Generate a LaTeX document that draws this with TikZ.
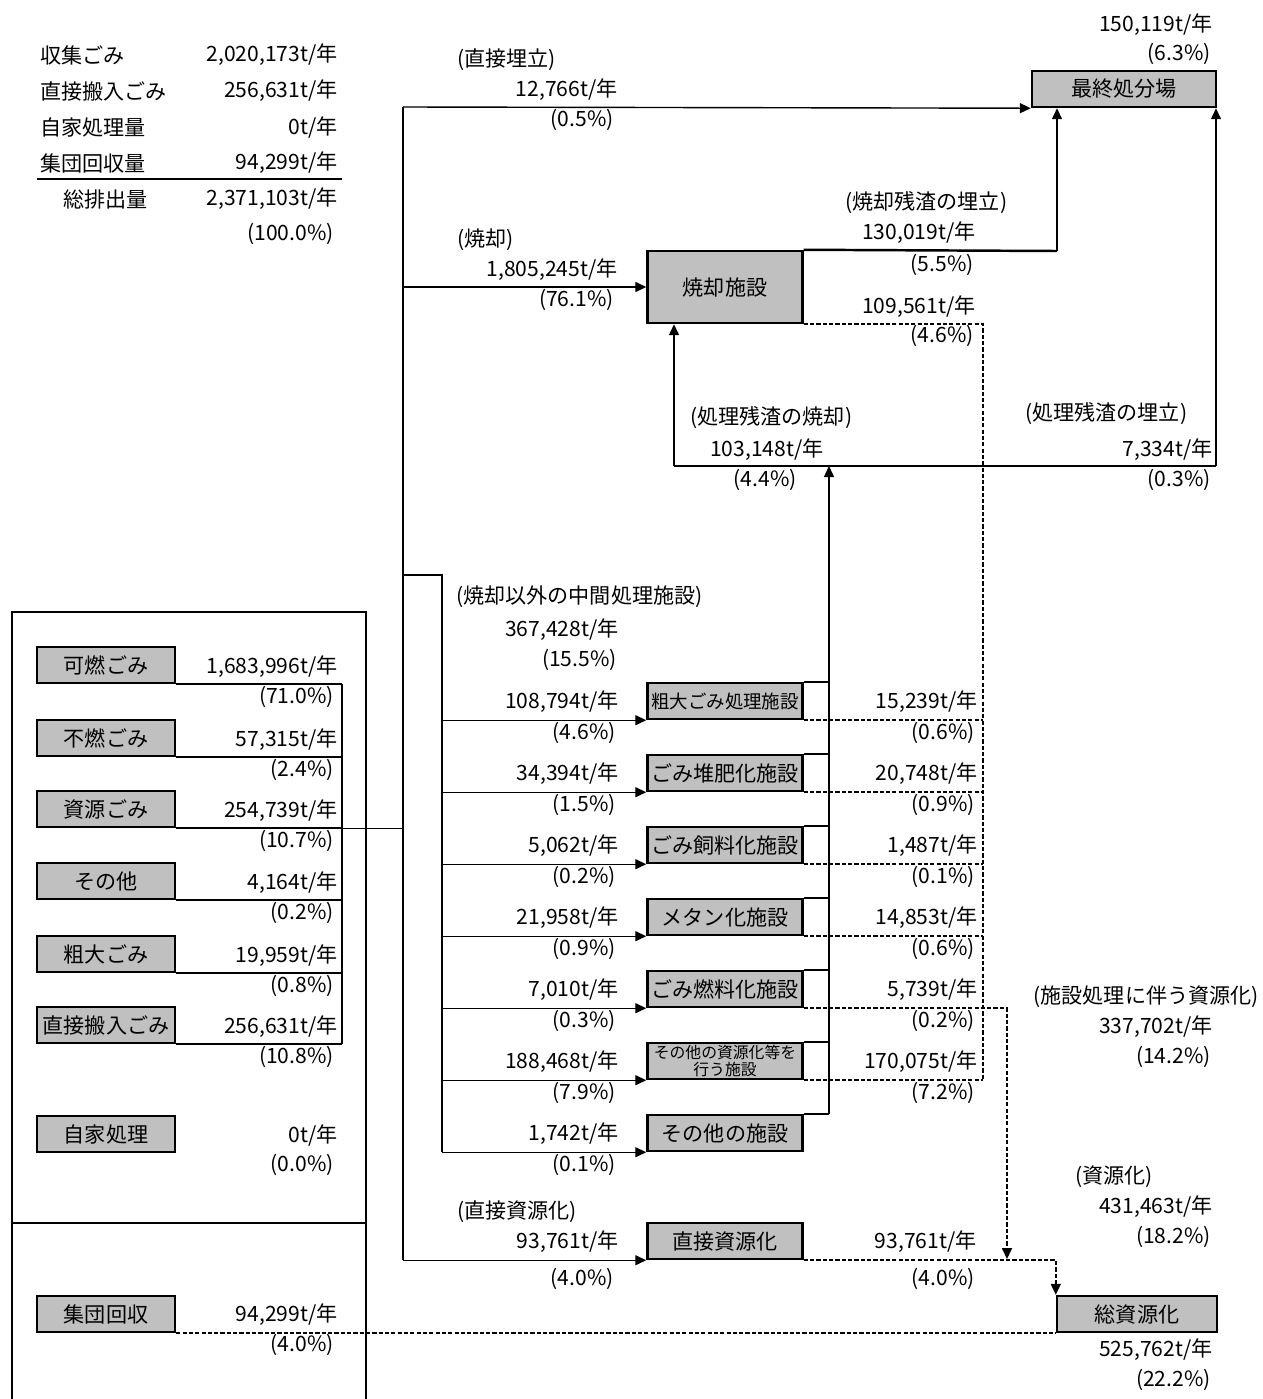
\documentclass[tikz,border=0pt]{standalone}
\usepackage{fontspec}
\setmainfont{Noto Sans CJK JP}
\usetikzlibrary{arrows.meta,positioning}
\definecolor{boxgray}{HTML}{C0C0C0}
\tikzset{
  box/.style={rectangle, draw=black, line width=1.4pt, fill=boxgray, inner sep=0pt,
              minimum height=0.72cm, align=center},
  catbox/.style={box, minimum width=2.76cm},
  facbox/.style={box, minimum width=3.1cm},
  val/.style={anchor=east, inner sep=0pt},
  lbl/.style={anchor=west, inner sep=0pt},
  flow/.style={line width=0.8pt},
  trunkline/.style={line width=1.1pt},
  heavy/.style={line width=1.4pt},
  catline/.style={line width=1.1pt},
  res/.style={line width=1pt, dash pattern=on 2.4pt off 1.2pt},
  arr/.style={-{Triangle[length=2.2mm,width=2mm]}},
}

\begin{document}
\begin{tikzpicture}[x=0.02cm, y=-0.02cm, font=\fontsize{12}{14}\selectfont]
\useasboundingbox (0,0) rectangle (1263,1399);

% summary table
\node[lbl] (tA) at (40,55) {収集ごみ};
\node[val] (tAv) at (338,55) {2,020,173t/年};
\node[lbl] (tB) at (40,91) {直接搬入ごみ};
\node[val] (tBv) at (338,91) {256,631t/年};
\node[lbl] (tC) at (40,127) {自家処理量};
\node[val] (tCv) at (338,127) {0t/年};
\node[lbl] (tD) at (40,163) {集団回収量};
\node[val] (tDv) at (338,163) {94,299t/年};
\draw[catline] (37,179) -- (342,179);
\node[lbl] (tE) at (63,199) {総排出量};
\node[val] (tEv) at (338,199) {2,371,103t/年};
\node[val] (tEp) at (334,234) {(100.0\%)};

% left panel
\draw[heavy] (12,1420) -- (12,612) -- (366,612) -- (366,1420);
\draw[heavy] (12,1223) -- (366,1223);

\node[catbox] (kanen) at (106,665) {可燃ごみ};
\node[catbox] (funen) at (106,738) {不燃ごみ};
\node[catbox] (shigen) at (106,809) {資源ごみ};
\node[catbox] (sonota) at (106,881) {その他};
\node[catbox] (sodai) at (106,954) {粗大ごみ};
\node[catbox] (chokunyu) at (106,1025) {直接搬入ごみ};
\node[catbox] (jika) at (106,1134) {自家処理};
\node[catbox] (shudan) at (106,1314) {集団回収};

\node[val] (kanenv) at (338,667) {1,683,996t/年};
\node[val] (kanenp) at (334,697) {(71.0\%)};
\node[val] (funenv) at (338,740) {57,315t/年};
\node[val] (funenp) at (334,770) {(2.4\%)};
\node[val] (shigenv) at (338,811) {254,739t/年};
\node[val] (shigenp) at (334,841) {(10.7\%)};
\node[val] (sonotav) at (338,883) {4,164t/年};
\node[val] (sonotap) at (334,913) {(0.2\%)};
\node[val] (sodaiv) at (338,956) {19,959t/年};
\node[val] (sodaip) at (334,986) {(0.8\%)};
\node[val] (chokunyuv) at (338,1027) {256,631t/年};
\node[val] (chokunyup) at (334,1057) {(10.8\%)};
\node[val] (jikav) at (338,1135) {0t/年};
\node[val] (jikap) at (334,1165) {(0.0\%)};
\node[val] (shudanv) at (338,1315) {94,299t/年};
\node[val] (shudanp) at (334,1345) {(4.0\%)};

% facilities
\node[box, minimum width=3.68cm] (saishu) at (1124,89) {最終処分場};
\node[box, minimum width=3.1cm, minimum height=1.44cm] (shokyaku) at (725,287) {焼却施設};
\node[facbox, font=\fontsize{10.5}{12}\selectfont] (sodaif) at (725,701) {粗大ごみ処理施設};
\node[facbox] (taihi) at (725,773) {ごみ堆肥化施設};
\node[facbox] (shiryo) at (725,845) {ごみ飼料化施設};
\node[facbox] (methane) at (725,917) {メタン化施設};
\node[facbox] (nenryo) at (725,989) {ごみ燃料化施設};
\node[facbox, font=\fontsize{9}{10}\selectfont] (shigenf) at (725,1061) {その他の資源化等を\\行う施設};
\node[facbox] (otherf) at (725,1133) {その他の施設};
\node[facbox] (chokushi) at (725,1241) {直接資源化};
\node[box, minimum width=3.2cm] (sou) at (1137,1314) {総資源化};

% junctions
\coordinate (trunk) at (403,107);
\coordinate (sub) at (442,575);
\coordinate (lcol) at (342,683);
\coordinate (ucol) at (829,466);
\coordinate (rcol) at (983,1079);
\coordinate (zan) at (1057,251);
\coordinate (lres) at (674,466);
\coordinate (rres) at (1216,466);
\coordinate (rf) at (1007,1259);

% left collection
\foreach \b in {kanen,funen,shigen,sonota,sodai,chokunyu}
  \draw[catline] (\b.south east) -- (\b.south east -| lcol);
\draw[flow] (kanen.south east -| lcol) -- (chokunyu.south east -| lcol);
\draw[flow] (shigen.south east -| lcol) -- (shigen.south east -| trunk);

% main flows
\draw[trunkline] (trunk) -- (trunk |- chokushi.south);
\draw[flow,arr] (trunk) -- (saishu.south west);
\draw[flow,arr] (trunk |- shokyaku) -- (shokyaku.west);
\draw[flow] (trunk |- sub) -- (sub) -- (sub |- otherf.south);
\foreach \f in {sodaif,taihi,shiryo,methane,nenryo,shigenf,otherf}
  \draw[flow,arr] (sub |- \f.south west) -- (\f.south west);
\draw[flow,arr] (trunk |- chokushi.south west) -- (chokushi.south west);

% residues
\foreach \f in {sodaif,taihi,shiryo,methane,nenryo,shigenf,otherf}
  \draw[heavy] (\f.north east) -- (\f.north east -| ucol);
\draw[flow,arr] (otherf.north east -| ucol) -- (ucol);
\draw[heavy] (shokyaku.north east) -- (zan);
\draw[flow,arr] (zan) -- (zan |- saishu.south);
\draw[heavy] (lres) -- (rres);
\draw[flow,arr] (lres) -- (lres |- shokyaku.south);
\draw[flow,arr] (rres) -- (rres |- saishu.south);

% recycling
\draw[res] (shokyaku.south east) -| (rcol);
\foreach \f in {sodaif,taihi,shiryo,methane,shigenf}
  \draw[res] (\f.south east) -- (\f.south east -| rcol);
\draw[res,arr] (nenryo.south east) -| (rf);
\draw[res,arr] (chokushi.south east) -| (sou.north west);
\draw[res] (shudan.south east) -- (sou.south west);

% flow labels
\node[val] (saishuv) at (1213,25) {150,119t/年};
\node[val] (saishup) at (1211,54) {(6.3\%)};
\node[lbl] (umeL) at (457,60) {(直接埋立)};
\node[val] (umev) at (618,90) {12,766t/年};
\node[val] (umep) at (614,120) {(0.5\%)};
\node[lbl] (shoL) at (457,240) {(焼却)};
\node[val] (shov) at (618,270) {1,805,245t/年};
\node[val] (shop) at (614,300) {(76.1\%)};
\node[lbl] (zanL) at (845,203) {(焼却残渣の埋立)};
\node[val] (zanv) at (976,233) {130,019t/年};
\node[val] (zanp) at (974,265) {(5.5\%)};
\node[val] (shoresv) at (976,307) {109,561t/年};
\node[val] (shoresp) at (974,336) {(4.6\%)};
\node[lbl] (lresL) at (690,418) {(処理残渣の焼却)};
\node[val] (lresv) at (824,450) {103,148t/年};
\node[val] (lresp) at (797,480) {(4.4\%)};
\node[lbl] (rresL) at (1025,414) {(処理残渣の埋立)};
\node[val] (rresv) at (1213,450) {7,334t/年};
\node[val] (rresp) at (1211,480) {(0.3\%)};
\node[lbl] (midL) at (456,597) {(焼却以外の中間処理施設)};
\node[val] (midv) at (619,630) {367,428t/年};
\node[val] (midp) at (617,660) {(15.5\%)};

\node[val] (sodaiin) at (619,702) {108,794t/年};
\node[val] (sodaiinp) at (616,733) {(4.6\%)};
\node[val] (sodaiout) at (978,702) {15,239t/年};
\node[val] (sodaioutp) at (975,733) {(0.6\%)};
\node[val] (taihiin) at (619,774) {34,394t/年};
\node[val] (taihiinp) at (616,805) {(1.5\%)};
\node[val] (taihiout) at (978,774) {20,748t/年};
\node[val] (taihioutp) at (975,805) {(0.9\%)};
\node[val] (shiryoin) at (619,846) {5,062t/年};
\node[val] (shiryoinp) at (616,877) {(0.2\%)};
\node[val] (shiryoout) at (978,846) {1,487t/年};
\node[val] (shiryooutp) at (975,877) {(0.1\%)};
\node[val] (methanein) at (619,918) {21,958t/年};
\node[val] (methaneinp) at (616,949) {(0.9\%)};
\node[val] (methaneout) at (978,918) {14,853t/年};
\node[val] (methaneoutp) at (975,949) {(0.6\%)};
\node[val] (nenryoin) at (619,990) {7,010t/年};
\node[val] (nenryoinp) at (616,1021) {(0.3\%)};
\node[val] (nenryoout) at (978,990) {5,739t/年};
\node[val] (nenryooutp) at (975,1021) {(0.2\%)};
\node[val] (shigenfin) at (619,1062) {188,468t/年};
\node[val] (shigenfinp) at (616,1093) {(7.9\%)};
\node[val] (shigenfout) at (978,1062) {170,075t/年};
\node[val] (shigenfoutp) at (975,1093) {(7.2\%)};
\node[val] (otherfin) at (619,1134) {1,742t/年};
\node[val] (otherfinp) at (616,1165) {(0.1\%)};

\node[lbl] (chokuL) at (457,1212) {(直接資源化)};
\node[val] (chokuin) at (619,1242) {93,761t/年};
\node[val] (chokuinp) at (614,1279) {(4.0\%)};
\node[val] (chokuout) at (977,1242) {93,761t/年};
\node[val] (chokuoutp) at (975,1279) {(4.0\%)};

\node[val] (shisetsuL) at (1259,997) {(施設処理に伴う資源化)};
\node[val] (shisetsuv) at (1213,1027) {337,702t/年};
\node[val] (shisetsup) at (1211,1057) {(14.2\%)};
\node[lbl] (shigenkaL) at (1075,1177) {(資源化)};
\node[val] (shigenkav) at (1213,1207) {431,463t/年};
\node[val] (shigenkap) at (1211,1237) {(18.2\%)};
\node[val] (souv) at (1213,1350) {525,762t/年};
\node[val] (soup) at (1211,1380) {(22.2\%)};
\end{tikzpicture}
\end{document}
